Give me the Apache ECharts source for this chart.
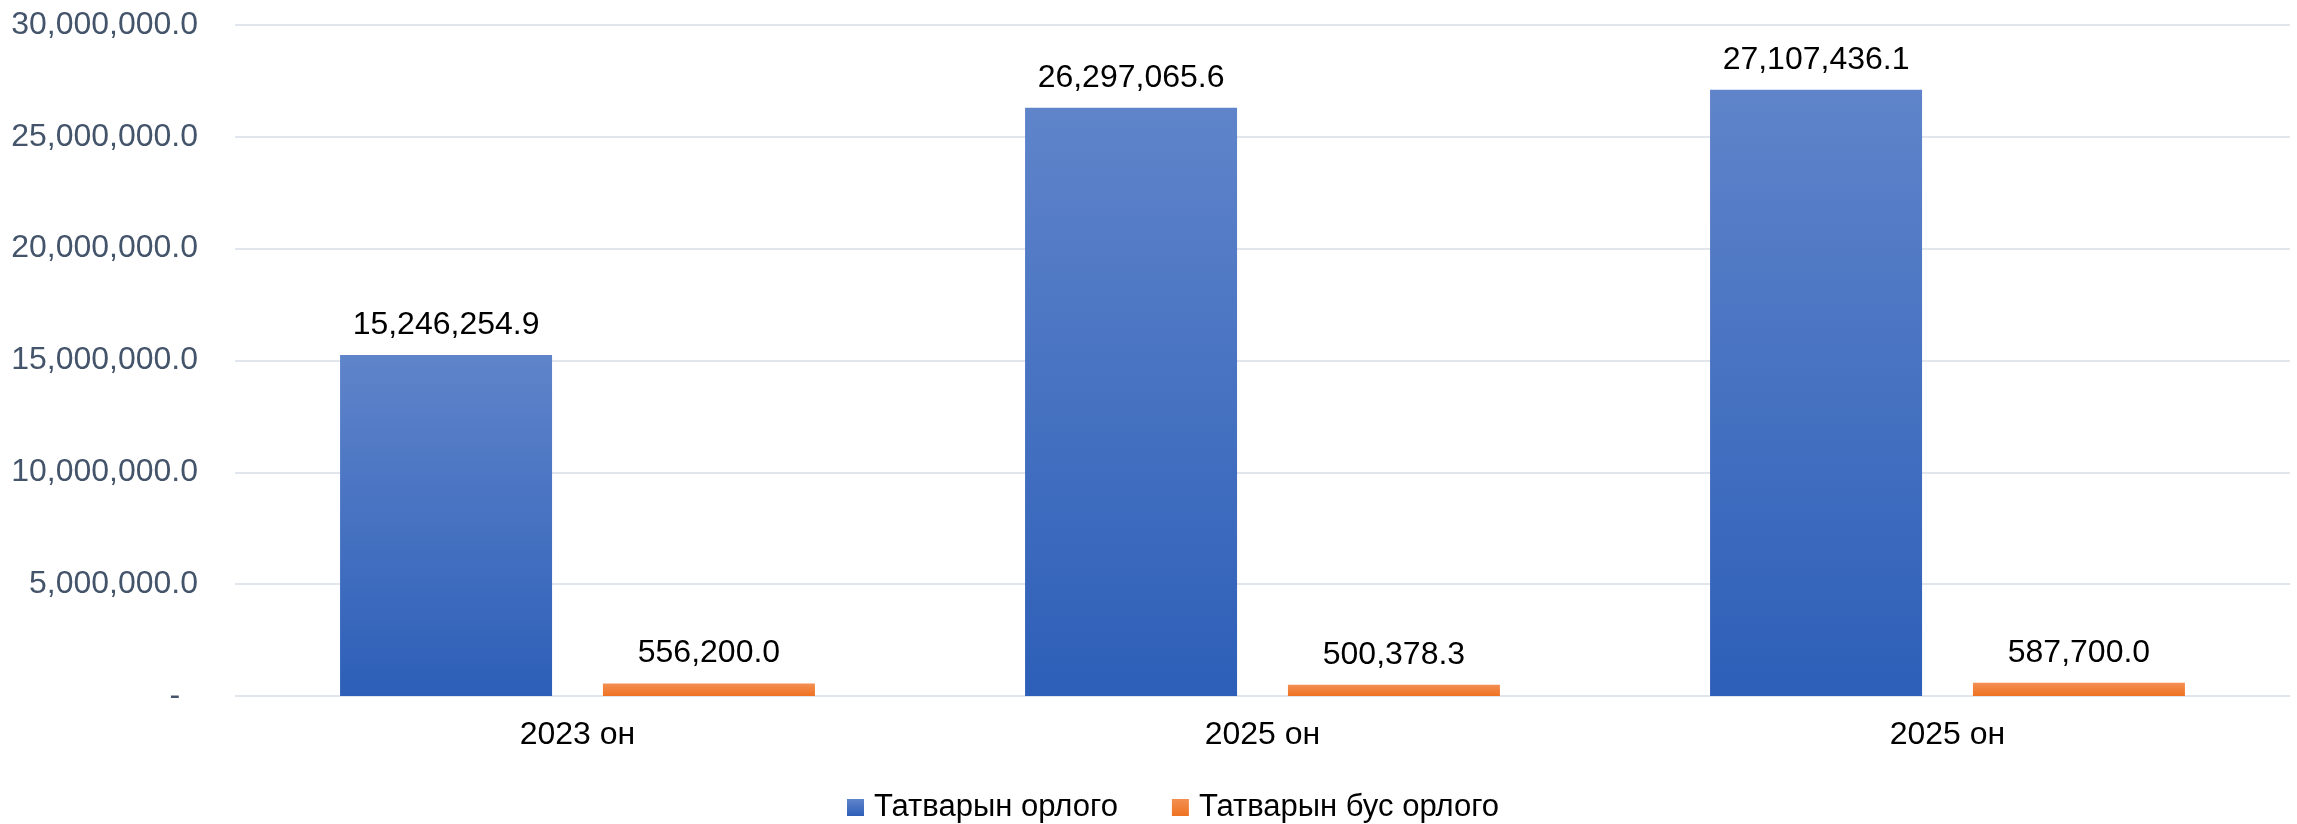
<!DOCTYPE html>
<html>
<head>
<meta charset="utf-8">
<script src="https://cdn.jsdelivr.net/npm/echarts@6/dist/echarts.min.js"></script>
<style>
html,body{margin:0;padding:0;background:#fff;}
#chart{width:2297px;height:824px;}
</style>
</head>
<body>
<div id="chart"></div>
<script>
const categories = ["2023 он", "2025 он", "2025 он"];
const seriesNames = ["Татварын орлого", "Татварын бус орлого"];
const taxIncome = [15246254.9, 26297065.6, 27107436.1];
const nonTaxIncome = [556200.0, 500378.3, 587700.0];
const yMin = 0, yMax = 30000000, yStep = 5000000;

const fmt = v => Number(v).toLocaleString('en-US', {minimumFractionDigits: 1, maximumFractionDigits: 1});
const FONT = "'Liberation Sans', Arial, sans-serif";

const blueGrad = new echarts.graphic.LinearGradient(0, 0, 0, 1, [
  {offset: 0, color: '#5f84ca'},
  {offset: 1, color: '#2d5fb8'}
]);
const orangeGrad = new echarts.graphic.LinearGradient(0, 0, 0, 1, [
  {offset: 0, color: '#f38f52'},
  {offset: 1, color: '#ee7222'}
]);

const chart = echarts.init(document.getElementById('chart'), null, {renderer: 'canvas'});
chart.setOption({
  backgroundColor: '#ffffff',
  animation: false,
  textStyle: {fontFamily: FONT},
  grid: {left: 235, right: 7, top: 25, bottom: 128, containLabel: false},
  legend: {
    left: 842,
    top: 787,
    itemWidth: 17,
    itemHeight: 17,
    itemGap: 54,
    icon: 'rect',
    textStyle: {fontSize: 31, color: '#000', fontFamily: FONT, padding: [0, 0, 0, 5]},
    data: seriesNames
  },
  xAxis: {
    type: 'category',
    data: categories.map((c, i) => String(i)),
    axisLine: {show: false},
    axisTick: {show: false},
    axisLabel: {
      formatter: (v, i) => categories[i],
      fontSize: 32,
      color: '#000',
      fontFamily: FONT,
      margin: 23
    }
  },
  yAxis: {
    type: 'value',
    min: yMin,
    max: yMax,
    interval: yStep,
    axisLine: {show: false},
    axisTick: {show: false},
    splitLine: {lineStyle: {color: '#e1e5ec', width: 2}},
    axisLabel: {
      formatter: v => v === 0 ? '-  ' : fmt(v),
      fontSize: 32,
      color: '#44546a',
      fontFamily: FONT,
      margin: 37
    }
  },
  series: [
    {
      name: seriesNames[0],
      type: 'bar',
      data: taxIncome,
      barWidth: 212,
      barGap: '24%',
      itemStyle: {color: blueGrad},
      label: {show: true, position: 'top', distance: 14, formatter: p => fmt(p.value), fontSize: 32, color: '#000', fontFamily: FONT}
    },
    {
      name: seriesNames[1],
      type: 'bar',
      data: nonTaxIncome,
      barWidth: 212,
      barGap: '24%',
      itemStyle: {color: orangeGrad},
      label: {show: true, position: 'top', distance: 14, formatter: p => fmt(p.value), fontSize: 32, color: '#000', fontFamily: FONT}
    }
  ]
});
</script>
</body>
</html>
